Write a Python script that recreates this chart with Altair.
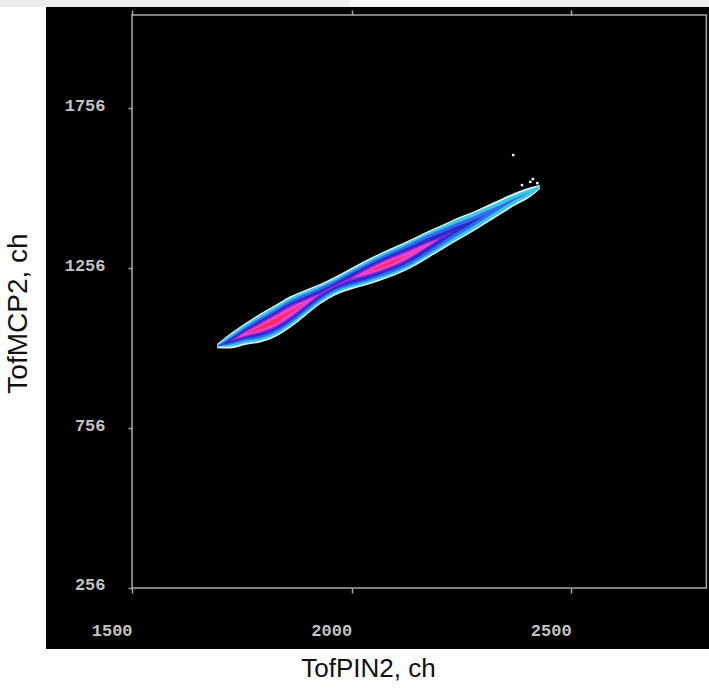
import altair as alt
import pandas as pd

# ---- data (TofPIN2 vs TofMCP2, channels) ----
tof_pin = [1694, 1723, 1757, 1792, 1826, 1860, 1894, 1928, 1962, 1997, 2031, 2065,
           2099, 2133, 2167, 2202, 2236, 2270, 2304, 2338, 2372, 2407, 2429]
ridge_mcp = [1013, 1028, 1050, 1069, 1091, 1119, 1147, 1175, 1200, 1222, 1241, 1260,
             1279, 1300, 1325, 1350, 1375, 1397, 1422, 1447, 1472, 1494, 1510]
# half thickness (in TofMCP2 channels) of each intensity contour
half_outer   = [7, 23, 34, 45, 50, 49, 41, 32, 29, 33, 39, 43, 45, 45, 43, 39, 36, 32, 28, 24, 20, 15, 6]
half_cyan    = [3, 18, 29, 40, 45, 44, 36, 27, 24, 28, 34, 38, 40, 40, 38, 34, 31, 27, 22, 18, 14, 10, 3]
half_blue    = [0, 11, 21, 32, 37, 36, 28, 20, 17, 21, 27, 31, 33, 33, 31, 26, 21, 16, 11, 6, 3, 0, 0]
half_indigo  = [0, 6, 15, 24, 29, 28, 20, 12, 10, 14, 20, 23, 25, 24, 21, 15, 10, 5, 0, 0, 0, 0, 0]
half_purple  = [0, 0, 9, 17, 22, 21, 12, 5, 3, 6, 12, 16, 17, 15, 10, 4, 0, 0, 0, 0, 0, 0, 0]
half_magenta = [0, 0, 5, 12, 16, 15, 8, 0, 0, 0, 7, 11, 12, 10, 6, 0, 0, 0, 0, 0, 0, 0, 0]
half_red     = [0, 0, 0, 5, 7, 4, 0, 0, 0, 0, 0, 4, 4, 0, 0, 0, 0, 0, 0, 0, 0, 0, 0]

level_names = ["outer", "cyan", "blue", "indigo", "purple", "magenta", "red"]
level_halves = [half_outer, half_cyan, half_blue, half_indigo, half_purple, half_magenta, half_red]
level_colors = ["#d8f4ff", "#3cc8e2", "#2f6cf0", "#2a2cc8", "#8a24e0", "#f044c8", "#ff2a5a"]

stray_x = [2368, 2388, 2407, 2413, 2423]
stray_y = [1610, 1516, 1526, 1535, 1522]

x_ticks = [1500, 2000, 2500]
y_ticks = [256, 756, 1256, 1756]
frame_x = [1500, 2808]
frame_y = [256, 2048]

x_title = "TofPIN2, ch"
y_title = "TofMCP2, ch"

# ---- scales / axes ----
xs = alt.Scale(domain=[1304, 2814], nice=False, zero=False)
ys = alt.Scale(domain=[65, 2073], nice=False, zero=False)

tick_font = "Liberation Mono"
tick_col = "#c4c4c4"
frame_col = "#a8a8a8"

y_axis = alt.Axis(values=y_ticks, orient="left", offset=-86, domain=False, grid=False,
                  format="d",
                  ticks=True, tickSize=4, tickColor=frame_col, tickWidth=1.5,
                  labelFont=tick_font, labelFontWeight="bold", labelFontSize=17,
                  labelColor=tick_col, labelAlign="right", labelBaseline="middle",
                  labelPadding=23, labelOffset=-3,
                  title=y_title, titleFont="Liberation Sans", titleFontSize=28,
                  titleFontWeight="normal", titleColor="#111111",
                  titleAngle=270, titleAlign="center", titleBaseline="middle",
                  titleX=-114, titleY=306)

x_axis_bottom = alt.Axis(values=x_ticks, orient="bottom", offset=-61, domain=False, grid=False,
                         format="d",
                         ticks=True, tickSize=5, tickColor=frame_col, tickWidth=1.5,
                         labelFont=tick_font, labelFontWeight="bold", labelFontSize=17,
                         labelColor=tick_col, labelAlign="right", labelBaseline="middle",
                         labelPadding=37,
                         title=x_title, titleFont="Liberation Sans", titleFontSize=26,
                         titleFontWeight="normal", titleColor="#111111",
                         titleAlign="center", titleBaseline="middle",
                         titleX=322, titleY=80)

x_axis_top = alt.Axis(values=x_ticks, orient="top", offset=-8, domain=False, grid=False,
                      ticks=True, tickSize=5, tickColor=frame_col, tickWidth=1.5,
                      labels=False, title=None)

frame_df = pd.DataFrame({"x": [frame_x[0]], "x2": [frame_x[1]],
                         "y": [frame_y[0]], "y2": [frame_y[1]]})

frame = alt.Chart(frame_df).mark_rect(filled=False, stroke=frame_col, strokeWidth=1.5).encode(
    x=alt.X("x:Q", scale=xs, axis=x_axis_bottom),
    x2="x2:Q",
    y=alt.Y("y:Q", scale=ys, axis=y_axis),
    y2="y2:Q",
)

top_ticks = alt.Chart(frame_df).mark_rect(opacity=0).encode(
    x=alt.X("x:Q", scale=xs, axis=x_axis_top),
    x2="x2:Q",
    y=alt.Y("y:Q", scale=ys, axis=y_axis),
    y2="y2:Q",
)

layers = [frame, top_ticks]
for name, halves, col in zip(level_names, level_halves, level_colors):
    df = pd.DataFrame({
        "x": tof_pin,
        "y": [c - h for c, h in zip(ridge_mcp, halves)],
        "y2": [c + h for c, h in zip(ridge_mcp, halves)],
    })
    layers.append(
        alt.Chart(df).mark_area(color=col, interpolate="monotone").encode(
            x=alt.X("x:Q", scale=xs, axis=None),
            y=alt.Y("y:Q", scale=ys, axis=y_axis),
            y2="y2:Q",
        )
    )

stray_df = pd.DataFrame({"x": stray_x, "y": stray_y})
layers.append(
    alt.Chart(stray_df).mark_square(color="#ffffff", size=6, opacity=1).encode(
        x=alt.X("x:Q", scale=xs, axis=None),
        y=alt.Y("y:Q", scale=ys, axis=y_axis),
    )
)

# top light strip (window header remnant)
strip_df = pd.DataFrame({"k": [0]})
layers.append(
    alt.Chart(strip_df).mark_rect(color="#ececec").encode(
        x=alt.value(-46), x2=alt.value(663), y=alt.value(-7), y2=alt.value(0)
    )
)
layers.append(
    alt.Chart(strip_df).mark_rect(color="#f8f8f8").encode(
        x=alt.value(304), x2=alt.value(474), y=alt.value(-7), y2=alt.value(-1)
    )
)

chart = alt.layer(*layers).resolve_axis(x="independent").properties(
    width=663, height=642,
    autosize=alt.AutoSizeParams(type="none"),
    padding={"left": 46, "top": 7, "right": 0, "bottom": 43},
    background="white",
).configure_view(fill="black", strokeWidth=0)

chart.save("out.html", embed_options={"renderer": "svg", "actions": False})
